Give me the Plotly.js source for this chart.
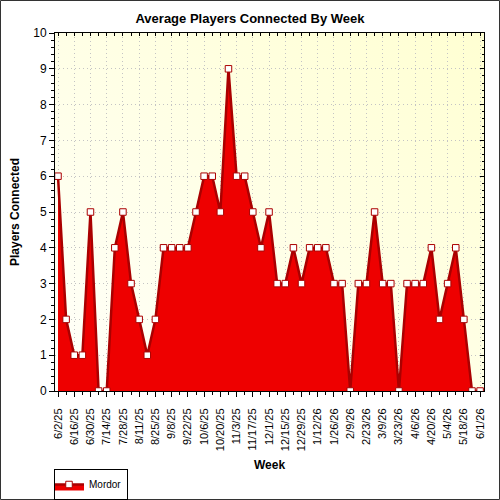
<!DOCTYPE html>
<html>
<head>
<meta charset="utf-8">
<script src="https://cdn.plot.ly/plotly-3.0.1.min.js"></script>
<style>html,body{margin:0;padding:0;background:#fff;}#chart{width:500px;height:500px;}</style>
</head>
<body>
<div id="chart"></div>
<script>
const weeks = ["6/2/25","6/9/25","6/16/25","6/23/25","6/30/25","7/7/25","7/14/25","7/21/25","7/28/25","8/4/25","8/11/25","8/18/25","8/25/25","9/1/25","9/8/25","9/15/25","9/22/25","9/29/25","10/6/25","10/13/25","10/20/25","10/27/25","11/3/25","11/10/25","11/17/25","11/24/25","12/1/25","12/8/25","12/15/25","12/22/25","12/29/25","1/5/26","1/12/26","1/19/26","1/26/26","2/2/26","2/9/26","2/16/26","2/23/26","3/2/26","3/9/26","3/16/26","3/23/26","3/30/26","4/6/26","4/13/26","4/20/26","4/27/26","5/4/26","5/11/26","5/18/26","5/25/26","6/1/26"];
const mordor = [6,2,1,1,5,0,0,4,5,3,2,1,2,4,4,4,4,5,6,6,5,9,6,6,5,4,5,3,3,4,3,4,4,4,3,3,0,3,3,5,3,3,0,3,3,3,4,2,3,4,2,0,0];
const seriesName = "Mordor";
const labelEvery = 2;

const xIdx = weeks.map((_, i) => i);
const tickVals = xIdx.filter(i => i % labelEvery === 0);
const tickText = tickVals.map(i => weeks[i]);

const L = 55, R = 484, T = 33, B = 391, W = 500, H = 500;
const pw = R - L, ph = B - T;
const xr = [-0.37, 52.48];

const bgSvg = '<svg xmlns="http://www.w3.org/2000/svg" width="100" height="100" preserveAspectRatio="none"><defs><linearGradient id="g" x1="0" y1="1" x2="1" y2="0"><stop offset="0" stop-color="#fffffa"/><stop offset="1" stop-color="#ffffd2"/></linearGradient></defs><rect width="100" height="100" fill="url(#g)"/></svg>';
const bgUri = 'data:image/svg+xml;base64,' + btoa(bgSvg);

const font = 'Arial, "Liberation Sans", sans-serif';

const traces = [
  {
    x: xIdx, y: mordor, name: seriesName, type: 'scatter', mode: 'lines+markers',
    fill: 'tozeroy', fillcolor: '#ee0000',
    line: {color: '#aa0000', width: 2.5},
    marker: {symbol: 'square', size: 6.5, color: '#ffffff', line: {color: '#aa0000', width: 1}},
    hoverinfo: 'x+y'
  },
  {
    x: xIdx, y: mordor, xaxis: 'x2', yaxis: 'y2', type: 'scatter', mode: 'markers',
    marker: {opacity: 0}, showlegend: false, hoverinfo: 'skip'
  }
];

const gridStyle = {showgrid: true, gridcolor: '#c4c4c4', griddash: '1px,3px', gridwidth: 1};

const layout = {
  width: W, height: H,
  margin: {l: L, r: W - R, t: T, b: H - B, pad: 0, autoexpand: false},
  paper_bgcolor: '#ffffff',
  plot_bgcolor: 'rgba(0,0,0,0)',
  font: {family: font, size: 11, color: '#000'},
  title: {text: '<b>Average Players Connected By Week</b>', x: 0.5, xref: 'container', xanchor: 'center',
          y: 1 - 18 / H, yref: 'container', yanchor: 'middle', font: {family: font, size: 13, color: '#000'}},
  xaxis: Object.assign({
    range: xr, tickmode: 'array', tickvals: tickVals, ticktext: tickText, tickangle: -90,
    ticks: 'outside', ticklen: 5, tickcolor: '#000', tickfont: {family: font, size: 11, color: '#000'},
    ticklabelstandoff: 7, automargin: false,
    minor: {dtick: 1, tick0: 0, ticks: 'outside', ticklen: 3, tickcolor: '#000', showgrid: false},
    showline: true, linecolor: '#000', linewidth: 1, zeroline: false,
    title: {text: '<b>Week</b>', font: {family: font, size: 12, color: '#000'}, standoff: 10},
    fixedrange: true
  }, gridStyle),
  yaxis: Object.assign({
    range: [0, 10], dtick: 1, tick0: 0, automargin: false,
    ticks: 'outside', ticklen: 5, tickcolor: '#000', tickfont: {family: font, size: 12, color: '#000'},
    minor: {dtick: 0.2, tick0: 0, ticks: 'outside', ticklen: 3, tickcolor: '#000', showgrid: false},
    showline: true, linecolor: '#000', linewidth: 1, zeroline: false,
    title: {text: '<b>Players Connected</b>', font: {family: font, size: 12, color: '#000'}, standoff: 11},
    fixedrange: true
  }, gridStyle),
  xaxis2: {
    overlaying: 'x', side: 'top', anchor: 'y', range: xr, tickmode: 'linear', dtick: 1, tick0: 0,
    ticks: 'inside', ticklen: 3, tickcolor: '#000', showticklabels: false, automargin: false,
    showline: true, linecolor: '#000', linewidth: 1, showgrid: false, zeroline: false, fixedrange: true
  },
  yaxis2: {
    overlaying: 'y', side: 'right', anchor: 'x', range: [0, 10], dtick: 1, tick0: 0, automargin: false,
    ticks: 'inside', ticklen: 4, tickcolor: '#000', showticklabels: false,
    minor: {dtick: 0.2, tick0: 0, ticks: 'inside', ticklen: 2, tickcolor: '#000', showgrid: false},
    showline: true, linecolor: '#000', linewidth: 1, showgrid: false, zeroline: false, fixedrange: true
  },
  showlegend: true,
  legend: {
    x: (54 - L) / pw, y: (B - 469) / ph, xanchor: 'left', yanchor: 'top',
    orientation: 'h', bgcolor: '#ffffff', bordercolor: '#000', borderwidth: 1,
    font: {family: font, size: 10, color: '#000'}, itemwidth: 30, tracegroupgap: 0,
    indentation: -6
  },
  images: [{
    source: bgUri, xref: 'paper', yref: 'paper', x: 0, y: 1, sizex: 1, sizey: 1,
    xanchor: 'left', yanchor: 'top', sizing: 'stretch', layer: 'below'
  }],
  shapes: [{
    type: 'rect', xref: 'paper', yref: 'paper',
    x0: (0.5 - L) / pw, x1: (W - 0.5 - L) / pw, y0: (B - (H - 0.5)) / ph, y1: (B - 0.5) / ph,
    line: {color: '#333', width: 1}, fillcolor: 'rgba(0,0,0,0)', layer: 'above'
  }],
  hovermode: 'closest'
};

Plotly.newPlot('chart', traces, layout, {displayModeBar: false, staticPlot: true});
</script>
</body>
</html>
